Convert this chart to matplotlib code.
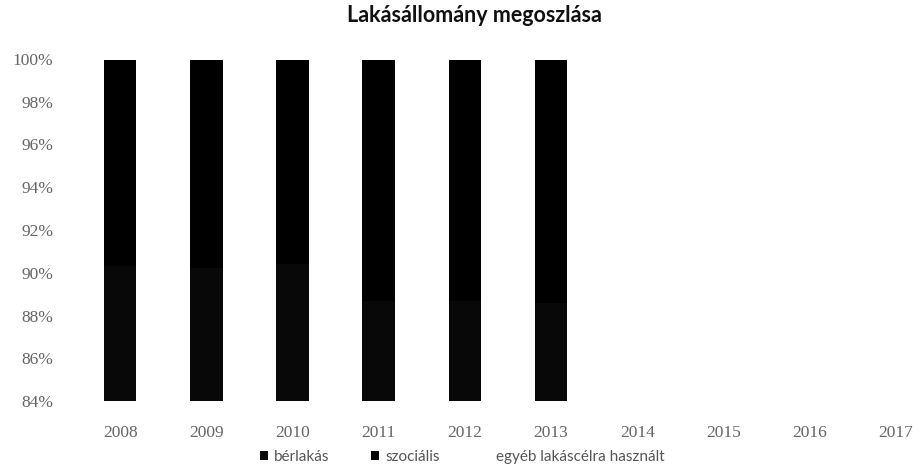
import matplotlib
matplotlib.use("Agg")
import matplotlib.pyplot as plt
import matplotlib.patches as mpatches
import numpy as np

years = ["2008", "2009", "2010", "2011", "2012", "2013", "2014", "2015", "2016", "2017"]
berlakas = [90.3, 90.2, 90.4, 88.7, 88.7, 88.6]
szocialis = [9.65, 9.75, 9.55, 11.25, 11.25, 11.35]
egyeb = [0.05, 0.05, 0.05, 0.05, 0.05, 0.05]
series_names = ["bérlakás", "szociális", "egyéb lakáscélra használt"]
title = "Lakásállomány megoszlása"
y_ticks = [84, 86, 88, 90, 92, 94, 96, 98, 100]

W, H = 921, 471
fig = plt.figure(figsize=(W / 100, H / 100), dpi=100)
left, right = 77 / W, 1.0
bottom, top = 1 - 401 / H, 1 - 59 / H
ax = fig.add_axes([left, bottom, right - left, top - bottom])

b = np.array(berlakas)
s = np.array(szocialis)
e = np.array(egyeb)
tot = b + s + e
bp, sp, ep = b / tot * 100, s / tot * 100, e / tot * 100
x = np.arange(len(bp))
width = 0.38
colors = ["#080808", "#000000", "#ffffff"]
ax.bar(x, bp, width, color=colors[0], label=series_names[0])
ax.bar(x, sp, width, bottom=bp, color=colors[1], label=series_names[1])
ax.bar(x, ep, width, bottom=bp + sp, color=colors[2], label=series_names[2])

ax.set_ylim(84, 100)
ax.set_xlim(-0.5, -0.5 + (W - 77) / 86.2)
ax.set_yticks(y_ticks)
ax.set_yticklabels([f"{v}%" for v in y_ticks])
ax.set_xticks(np.arange(len(years)))
ax.set_xticklabels(years)
for sp_ in ax.spines.values():
    sp_.set_visible(False)
ax.tick_params(axis="both", length=0, colors="#666666", labelsize=12.5)
ax.tick_params(axis="y", pad=17)
ax.tick_params(axis="x", pad=17)
for lbl in ax.get_xticklabels() + ax.get_yticklabels():
    lbl.set_fontfamily("Liberation Serif")

fig.text(474 / W, 1 - 15 / H, title, ha="center", va="center",
         fontsize=15.5, fontweight="bold", family="Lato", color="#111111")

handles = [mpatches.Patch(facecolor=c, edgecolor="none") for c in colors]
leg = fig.legend(handles, series_names, loc="center", bbox_to_anchor=(462 / W, 1 - 457 / H),
                 ncol=3, frameon=False, handlelength=0.55, handleheight=0.55,
                 handletextpad=0.4, columnspacing=2.7, prop={"family": "Lato", "size": 11})
for t in leg.get_texts():
    t.set_color("#555555")

fig.savefig("out.png", dpi=100)
